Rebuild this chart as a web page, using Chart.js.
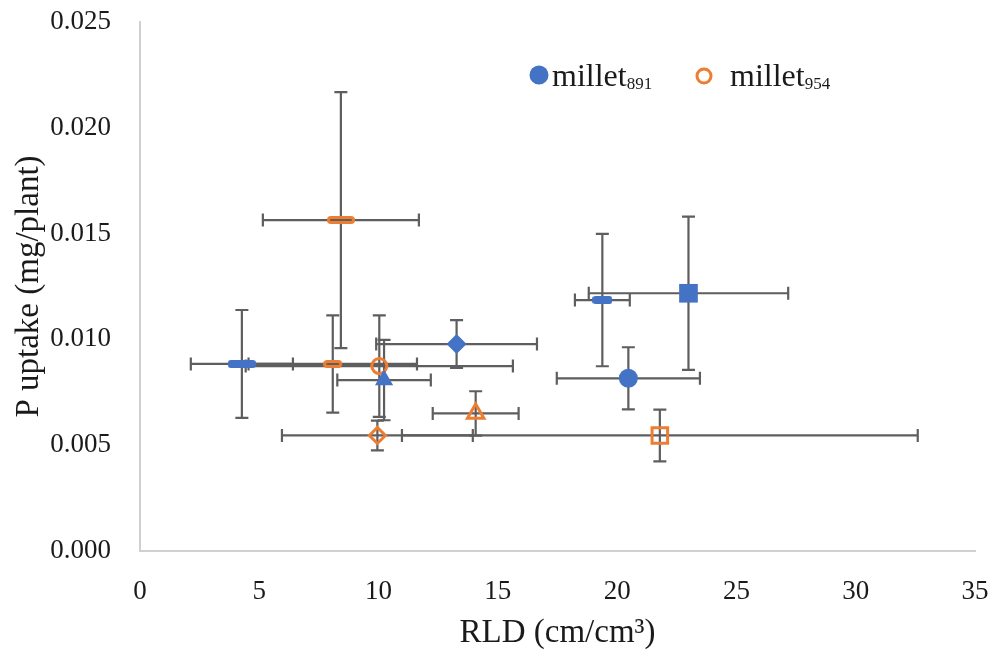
<!DOCTYPE html>
<html>
<head>
<meta charset="utf-8">
<script src="https://cdn.jsdelivr.net/npm/chart.js@4"></script>
<style>
  html, body { margin: 0; padding: 0; background: #fff; }
  #wrap { width: 995px; height: 662px; position: relative; }
</style>
</head>
<body>
<div id="wrap"><canvas id="chart" width="995" height="662"></canvas></div>
<script>
// ---- data ----
const markers = ['circle', 'square', 'diamond', 'triangle', 'dash', 'dashWide'];

const millet891X    = [20.47, 22.99, 13.27, 10.23, 19.38, 4.27];
const millet891Y    = [0.00816, 0.01218, 0.00978, 0.00808, 0.01186, 0.00884];
const millet891XErr = [3.00, 4.18, 3.37, 1.96, 1.15, 2.14];
const millet891YErr = [0.00147, 0.00362, 0.00113, 0.00190, 0.00313, 0.00255];

const millet954X    = [10.03, 21.79, 9.95, 14.07, 8.08, 8.42];
const millet954Y    = [0.00874, 0.00546, 0.00546, 0.00650, 0.00884, 0.01564];
const millet954XErr = [5.60, 10.81, 4.00, 1.80, 3.53, 3.27];
const millet954YErr = [0.00240, 0.00122, 0.00070, 0.00105, 0.00230, 0.00605];

const xTicks = [0, 5, 10, 15, 20, 25, 30, 35];
const yTicks = [0, 0.005, 0.010, 0.015, 0.020, 0.025];

const BLUE = '#4472C4';
const ORANGE = '#ED7D31';
const BAR = '#5e5e5e';
const SERIF = '"Liberation Serif", "Times New Roman", serif';

// rounded "dash" marker as a little canvas
function dashCanvas(w, h, filled, color) {
  const c = document.createElement('canvas');
  c.width = w; c.height = h;
  const g = c.getContext('2d');
  const r = 3, lw = filled ? 0 : 3;
  g.beginPath();
  g.roundRect(lw / 2, lw / 2, w - lw, h - lw, r);
  if (filled) { g.fillStyle = color; g.fill(); }
  else { g.strokeStyle = color; g.lineWidth = lw; g.stroke(); }
  return c;
}

function styleFor(kind, filled, color) {
  switch (kind) {
    case 'circle': return 'circle';
    case 'square': return 'rect';
    case 'diamond': return 'rectRot';
    case 'triangle': return 'triangle';
    case 'dash': return dashCanvas(filled ? 20 : 19, 8, filled, color);
    case 'dashWide': return dashCanvas(28, 8, filled, color);
  }
}

const blueRadius   = { circle: 9.5, square: 13.2, diamond: 10, triangle: 10.5, dash: 5, dashWide: 5 };
const orangeRadius = { circle: 7.5, square: 11, diamond: 8, triangle: 9.5, dash: 5, dashWide: 5 };

function buildPoints(xs, ys, xe, ye) {
  return xs.map((x, i) => ({ x, y: ys[i], xErr: xe[i], yErr: ye[i] }));
}

// error bars drawn under markers
const errorBarsPlugin = {
  id: 'errorBars',
  beforeDatasetsDraw(chart) {
    const { ctx, scales: { x, y } } = chart;
    const cap = 6.5;
    ctx.save();
    ctx.strokeStyle = BAR;
    ctx.lineWidth = 2.2;
    chart.data.datasets.forEach((ds, di) => {
      const meta = chart.getDatasetMeta(di);
      ds.data.forEach((p, i) => {
        const el = meta.data[i];
        const px = el.x, py = el.y;
        const xl = x.getPixelForValue(p.x - p.xErr);
        const xr = x.getPixelForValue(p.x + p.xErr);
        const yt = y.getPixelForValue(p.y + p.yErr);
        const yb = y.getPixelForValue(p.y - p.yErr);
        ctx.beginPath();
        // horizontal bar + caps
        ctx.moveTo(xl, py); ctx.lineTo(xr, py);
        ctx.moveTo(xl, py - cap); ctx.lineTo(xl, py + cap);
        ctx.moveTo(xr, py - cap); ctx.lineTo(xr, py + cap);
        // vertical bar + caps
        ctx.moveTo(px, yt); ctx.lineTo(px, yb);
        ctx.moveTo(px - cap, yt); ctx.lineTo(px + cap, yt);
        ctx.moveTo(px - cap, yb); ctx.lineTo(px + cap, yb);
        ctx.stroke();
      });
    });
    ctx.restore();
  }
};

// legend with subscript numbers
const subLegendPlugin = {
  id: 'subLegend',
  afterDraw(chart) {
    const { ctx, chartArea: ca } = chart;
    const ox = ca.left + 399, oy = ca.top + 64;
    ctx.save();
    // millet891
    ctx.fillStyle = BLUE;
    ctx.beginPath(); ctx.arc(ox, oy - 11, 9.5, 0, Math.PI * 2); ctx.fill();
    ctx.fillStyle = '#1a1a1a';
    ctx.textBaseline = 'alphabetic';
    ctx.textAlign = 'left';
    ctx.font = '32px ' + SERIF;
    ctx.fillText('millet', ox + 13, oy);
    let w = ctx.measureText('millet').width;
    ctx.font = '17px ' + SERIF;
    ctx.fillText('891', ox + 13 + w, oy + 3);
    // millet954
    const ox2 = ox + 165;
    ctx.strokeStyle = ORANGE;
    ctx.lineWidth = 3;
    ctx.beginPath(); ctx.arc(ox2, oy - 10, 7, 0, Math.PI * 2); ctx.stroke();
    ctx.font = '32px ' + SERIF;
    ctx.fillText('millet', ox2 + 26, oy);
    w = ctx.measureText('millet').width;
    ctx.font = '17px ' + SERIF;
    ctx.fillText('954', ox2 + 26 + w, oy + 3);
    ctx.restore();
  }
};

const blueData = buildPoints(millet891X, millet891Y, millet891XErr, millet891YErr);
const orangeData = buildPoints(millet954X, millet954Y, millet954XErr, millet954YErr);

new Chart(document.getElementById('chart').getContext('2d'), {
  type: 'scatter',
  data: {
    datasets: [
      {
        label: 'millet891',
        data: blueData,
        pointStyle: markers.map(m => styleFor(m, true, BLUE)),
        pointRadius: markers.map(m => blueRadius[m]),
        backgroundColor: BLUE,
        borderColor: BLUE,
        pointBorderWidth: 0
      },
      {
        label: 'millet954',
        data: orangeData,
        pointStyle: markers.map(m => styleFor(m, false, ORANGE)),
        pointRadius: markers.map(m => orangeRadius[m]),
        backgroundColor: 'rgba(0,0,0,0)',
        borderColor: ORANGE,
        pointBorderWidth: 3
      }
    ]
  },
  options: {
    responsive: false,
    animation: false,
    events: [],
    layout: { padding: { left: 0, right: 20, top: 22, bottom: 0 } },
    scales: {
      x: {
        type: 'linear',
        min: 0, max: 35,
        afterBuildTicks: (s) => { s.ticks = xTicks.map(v => ({ value: v })); },
        afterFit: (s) => { s.height = 111; s.paddingLeft = 0; s.paddingRight = 0; },
        grid: { display: false, drawTicks: false },
        border: { color: '#d0d0d0', width: 2 },
        ticks: { color: '#1a1a1a', font: { family: SERIF, size: 27 }, padding: 25, maxRotation: 0 },
        title: {
          display: true, text: 'RLD (cm/cm³)', color: '#1a1a1a',
          font: { family: SERIF, size: 33 }, padding: { top: 0, bottom: 9 }
        }
      },
      y: {
        type: 'linear',
        min: 0, max: 0.025,
        afterBuildTicks: (s) => { s.ticks = yTicks.map(v => ({ value: v })); },
        afterFit: (s) => { s.width = 140; s.paddingTop = 0; s.paddingBottom = 0; },
        grid: { display: false, drawTicks: false },
        border: { color: '#d0d0d0', width: 2 },
        ticks: {
          color: '#1a1a1a', font: { family: SERIF, size: 27 }, padding: 29,
          callback: (v) => Number(v).toFixed(3)
        },
        title: {
          display: true, text: 'P uptake (mg/plant)', color: '#1a1a1a',
          font: { family: SERIF, size: 33 }, padding: { top: 10, bottom: 0 }
        }
      }
    },
    plugins: { legend: { display: false }, tooltip: { enabled: false } }
  },
  plugins: [errorBarsPlugin, subLegendPlugin]
});
</script>
</body>
</html>
